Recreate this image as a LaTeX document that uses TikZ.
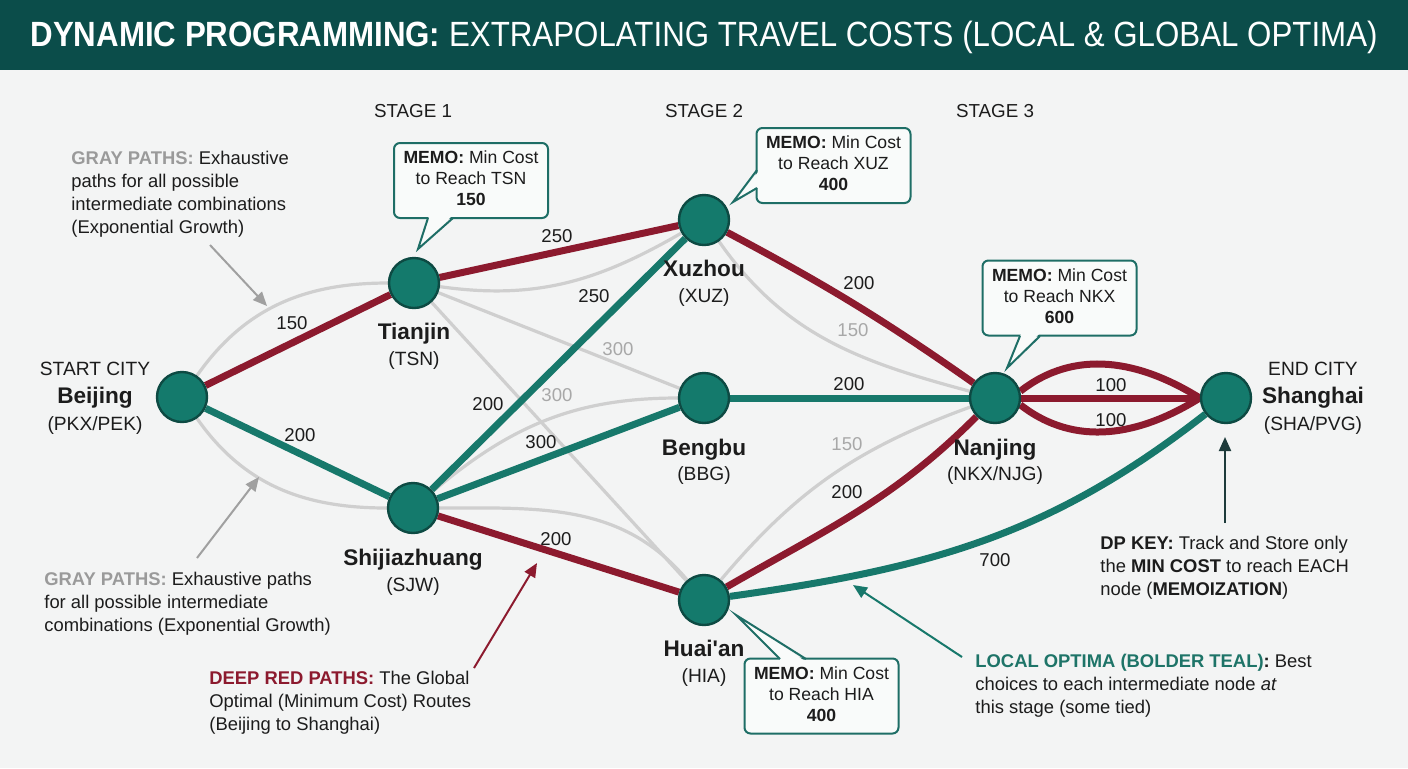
\documentclass[tikz,border=0pt]{standalone}
\usepackage{fontspec}
\setmainfont[Ligatures=TeXOff]{Liberation Sans}
\usetikzlibrary{arrows.meta}
\definecolor{bgcol}{HTML}{F3F4F4}
\definecolor{titlecol}{HTML}{0B4D4A}
\definecolor{nodefill}{HTML}{147A6C}
\definecolor{nodeborder}{HTML}{0D4A43}
\definecolor{redline}{HTML}{8C1A2E}
\definecolor{tealline}{HTML}{17786B}
\definecolor{grayline}{HTML}{CFCFCF}
\definecolor{graynum}{HTML}{A8A8A8}
\definecolor{graylab}{HTML}{9A9A9A}
\definecolor{grayarrow}{HTML}{A0A0A0}
\definecolor{tealtxt}{HTML}{1E7468}
\definecolor{memoborder}{HTML}{1E6E66}
\definecolor{memofill}{HTML}{F9FBFA}
\definecolor{darkarrow}{HTML}{1E3B3B}
\definecolor{txt}{HTML}{1C1C1C}
\pgfdeclarelayer{back}
\pgfdeclarelayer{edges}
\pgfsetlayers{back,edges,main}
\newcommand{\annlines}[1]{\begin{tabular}[t]{@{}l@{}}#1\end{tabular}}
\newcommand{\memolines}[1]{\begin{tabular}{@{}c@{}}#1\end{tabular}}
\begin{document}
\begin{tikzpicture}[x=0.5pt,y=-0.5pt,
  city/.style={circle,fill=nodefill,draw=nodeborder,line width=1.2pt,minimum size=25pt,inner sep=0pt},
  cname/.style={font=\fontsize{11.3}{13}\selectfont\bfseries,anchor=base,inner sep=0pt,text=txt},
  ccode/.style={font=\fontsize{9.6}{11}\selectfont,anchor=base,inner sep=0pt,text=txt},
  stagelab/.style={font=\fontsize{9.4}{11}\selectfont,anchor=base,inner sep=0pt,text=txt},
  elab/.style={font=\fontsize{9.3}{11}\selectfont,inner sep=0pt,text=txt},
  glab/.style={elab,text=graynum},
  ann/.style={font=\fontsize{9.2}{11.5}\selectfont,anchor=base west,inner sep=0pt,text=txt},
  memo/.style={draw=memoborder,fill=memofill,line width=1pt,rounded corners=3pt,minimum width=77pt,minimum height=37.5pt,inner sep=0pt,font=\fontsize{8.8}{10.5}\selectfont,text=txt},
  ptrfill/.style={fill=memofill},
  ptrline/.style={draw=memoborder,line width=1pt,line join=miter},
  grayedge/.style={draw=grayline,line width=1.6pt},
  rededge/.style={draw=redline,line width=3.5pt},
  tealedge/.style={draw=tealline,line width=3.5pt},
  annarrow/.style={line width=1pt,-{Triangle[length=7pt,width=6pt]}}
]
\begin{pgfonlayer}{back}
  \fill[bgcol] (0,0) rectangle (1408,768);
  \fill[titlecol] (0,0) rectangle (1408,70);
\end{pgfonlayer}
\useasboundingbox (0,0) rectangle (1408,768);

% title
\node[anchor=base,inner sep=0pt,text=white] (title) at (704,46)
  {\resizebox{673.5pt}{12.7pt}{\fontsize{20}{24}\selectfont\textbf{DYNAMIC PROGRAMMING:} EXTRAPOLATING TRAVEL COSTS (LOCAL \& GLOBAL OPTIMA)}};

% stages
\node[stagelab] (st1) at (413,117) {STAGE 1};
\node[stagelab] (st2) at (704,117) {STAGE 2};
\node[stagelab] (st3) at (995,117) {STAGE 3};

% cities
\node[city] (bj) at (182,397) {};
\node[city] (tj) at (414,283) {};
\node[city] (sjw) at (413,508) {};
\node[city] (xz) at (704,220) {};
\node[city] (bb) at (704,398) {};
\node[city] (ha) at (704,600) {};
\node[city] (nj) at (995,398) {};
\node[city] (sh) at (1226,398) {};

% city labels
\node[ccode] (bjstart) at (95,375) {START CITY};
\node[cname] (bjname) at (95,403) {Beijing};
\node[ccode] (bjcode) at (95,430) {(PKX/PEK)};
\node[cname] (tjname) at (414,339) {Tianjin};
\node[ccode] (tjcode) at (414,365) {(TSN)};
\node[cname] (sjwname) at (413,565) {Shijiazhuang};
\node[ccode] (sjwcode) at (413,591) {(SJW)};
\node[cname] (xzname) at (704,276) {Xuzhou};
\node[ccode] (xzcode) at (704,302) {(XUZ)};
\node[cname] (bbname) at (704,455) {Bengbu};
\node[ccode] (bbcode) at (704,480) {(BBG)};
\node[cname] (haname) at (704,656) {Huai'an};
\node[ccode] (hacode) at (704,682) {(HIA)};
\node[cname] (njname) at (995,455) {Nanjing};
\node[ccode] (njcode) at (995,480) {(NKX/NJG)};
\node[ccode] (shend) at (1313,375) {END CITY};
\node[cname] (shname) at (1313,403) {Shanghai};
\node[ccode] (shcode) at (1313,430) {(SHA/PVG)};

% edges
\begin{pgfonlayer}{edges}
  % gray exhaustive paths
  \draw[grayedge] (bj) to[out=55,in=180] (tj);
  \draw[grayedge] (bj) to[out=-55,in=180] (sjw);
  \draw[grayedge] (tj) to[out=-8,in=210] (xz);
  \draw[grayedge] (tj) -- (bb);
  \draw[grayedge] (tj) -- (ha);
  \draw[grayedge] (sjw) to[out=40,in=180] (bb);
  \draw[grayedge] (sjw) to[out=0,in=130] (ha);
  \draw[grayedge] (xz) to[out=-55,in=165] (nj);
  \draw[grayedge] (ha) to[out=50,in=200] (nj);
  % teal local optima
  \draw[tealedge] (bj) -- (sjw);
  \draw[tealedge] (sjw) -- (xz);
  \draw[tealedge] (sjw) -- (bb);
  \draw[tealedge] (bb) -- (nj);
  \draw[tealedge] (ha) to[out=8,in=218] (sh);
  % red global optima
  \draw[rededge] (bj) -- (tj);
  \draw[rededge] (tj) -- (xz);
  \draw[rededge] (xz) to[out=-28,in=145] (nj);
  \draw[rededge] (sjw) -- (ha);
  \draw[rededge] (ha) to[out=30,in=225] (nj);
  \draw[rededge] (nj) -- (sh);
  \draw[rededge] (nj.15) to[out=38,in=148] (sh.west);
  \draw[rededge] (nj.-15) to[out=-38,in=-148] (sh.west);
\end{pgfonlayer}

% edge labels
\node[elab] (e1) at (292,323) {150};
\node[elab] (e2) at (300,435) {200};
\node[elab] (e3) at (557,236) {250};
\node[elab] (e4) at (594,296) {250};
\node[glab] (e5) at (618,349) {300};
\node[elab] (e6) at (488,404) {200};
\node[glab] (e7) at (557,395) {300};
\node[elab] (e8) at (541,442) {300};
\node[elab] (e9) at (556,539) {200};
\node[elab] (e10) at (859,283) {200};
\node[glab] (e11) at (853,330) {150};
\node[elab] (e12) at (849,384) {200};
\node[glab] (e13) at (847,444) {150};
\node[elab] (e14) at (847,492) {200};
\node[elab] (e15) at (995,560) {700};
\node[elab] (e16) at (1111,385) {100};
\node[elab] (e17) at (1111,420) {100};

% memo boxes
\node[memo] (mtsn) at (471,180.5) {\memolines{\textbf{MEMO:} Min Cost\\to Reach TSN\\\textbf{150}}};
\fill[ptrfill] (429,216) -- (418,249) -- (452,216) -- cycle;
\draw[ptrline] (428,218) -- (418,249) -- (453,218);

\node[memo] (mxuz) at (833.5,165.5) {\memolines{\textbf{MEMO:} Min Cost\\to Reach XUZ\\\textbf{400}}};
\fill[ptrfill] (759,171) -- (733,202) -- (759,187) -- cycle;
\draw[ptrline] (757,170) -- (733,202) -- (757,188);

\node[memo] (mnkx) at (1059.5,298) {\memolines{\textbf{MEMO:} Min Cost\\to Reach NKX\\\textbf{600}}};
\fill[ptrfill] (1021,334) -- (1007,368) -- (1039,334) -- cycle;
\draw[ptrline] (1020,336) -- (1007,368) -- (1040,336);

\node[memo] (mhia) at (821.5,696) {\memolines{\textbf{MEMO:} Min Cost\\to Reach HIA\\\textbf{400}}};
\fill[ptrfill] (781,661) -- (736,615) -- (805,661) -- cycle;
\draw[ptrline] (780,659) -- (736,615) -- (806,659);

% annotations
\node[ann] (agray1) at (71,164) {\annlines{\textbf{\textcolor{graylab}{GRAY PATHS:}} Exhaustive\\paths for all possible\\intermediate combinations\\(Exponential Growth)}};
\node[ann] (agray2) at (44,585) {\annlines{\textbf{\textcolor{graylab}{GRAY PATHS:}} Exhaustive paths\\for all possible intermediate\\combinations (Exponential Growth)}};
\node[ann] (ared) at (209,684) {\annlines{\textbf{\textcolor{redline}{DEEP RED PATHS:}} The Global\\Optimal (Minimum Cost) Routes\\(Beijing to Shanghai)}};
\node[ann] (ateal) at (975,667) {\annlines{\textbf{\textcolor{tealtxt}{LOCAL OPTIMA (BOLDER TEAL)}:} Best\\choices to each intermediate node \textit{at}\\this stage (some tied)}};
\node[ann] (akey) at (1100,549) {\annlines{\textbf{DP KEY:} Track and Store only\\the \textbf{MIN COST} to reach EACH\\node (\textbf{MEMOIZATION})}};

% annotation arrows
\coordinate (g1s) at (210,245);
\coordinate (g1e) at (267,306);
\coordinate (g2s) at (197,558);
\coordinate (g2e) at (259,477);
\coordinate (rs) at (474,668);
\coordinate (re) at (537,563);
\coordinate (ts) at (962,657);
\coordinate (te) at (853,585);
\coordinate (ks) at (1225,523);
\coordinate (ke) at (1225,437);
\draw[annarrow,draw=grayarrow,fill=grayarrow] (g1s) -- (g1e);
\draw[annarrow,draw=grayarrow,fill=grayarrow] (g2s) -- (g2e);
\draw[annarrow,draw=redline,fill=redline] (rs) -- (re);
\draw[annarrow,draw=tealline,fill=tealline] (ts) -- (te);
\draw[annarrow,draw=darkarrow,fill=darkarrow] (ks) -- (ke);
\end{tikzpicture}
\end{document}
